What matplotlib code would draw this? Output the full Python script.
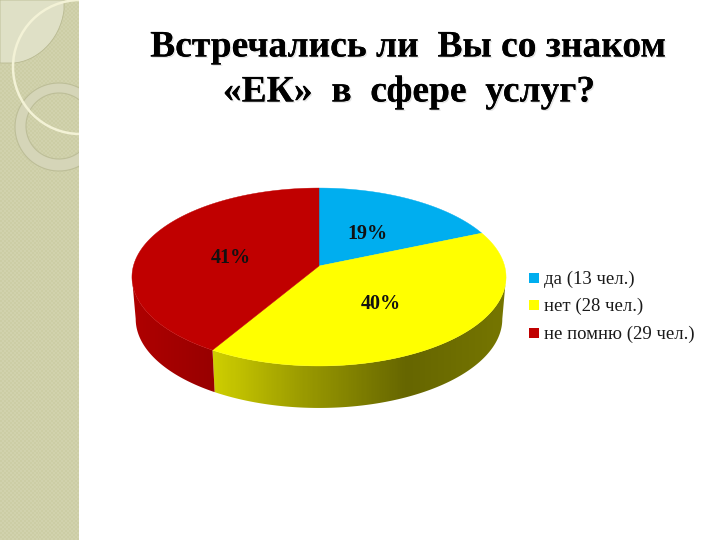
import numpy as np
import matplotlib
matplotlib.use("Agg")
import matplotlib.pyplot as plt
from matplotlib.patches import Polygon, Circle, Rectangle, PathPatch
from matplotlib.path import Path
from matplotlib.colors import LinearSegmentedColormap
import matplotlib.patheffects as pe

title_lines = ["Встречались ли  Вы со знаком", "«ЕК»  в  сфере  услуг?"]
categories = ["да (13 чел.)", "нет (28 чел.)", "не помню (29 чел.)"]
counts = [13, 28, 29]
pct_labels = ["19%", "40%", "41%"]
colors = ["#00AEEF", "#FFFF00", "#C00000"]

SERIF = ["Liberation Serif", "DejaVu Serif"]
fig = plt.figure(figsize=(7.2, 5.4), dpi=100, facecolor="white")
ax = fig.add_axes([0, 0, 1, 1])
ax.set_xlim(0, 720)
ax.set_ylim(540, 0)
ax.axis("off")

# ---- decorative side band
yy, xx = np.mgrid[0:540:2, 0:80:2]
check = ((xx // 2 + yy // 2) % 2).astype(float)
band_cm = LinearSegmentedColormap.from_list("b", ["#CCCDA5", "#D1D2AD"])
ax.imshow(check, extent=(0, 79, 540, 0), cmap=band_cm, aspect="auto",
          interpolation="nearest", zorder=1)
ax.set_xlim(0, 720)
ax.set_ylim(540, 0)
clip = Rectangle((0, 0), 79, 540, transform=ax.transData)

leaf = Path([(0, 0), (64, 0), (64, 10), (60, 42), (35, 62), (13, 63), (0, 63), (0, 0)],
            [Path.MOVETO, Path.LINETO, Path.LINETO, Path.CURVE4, Path.CURVE4, Path.CURVE4,
             Path.LINETO, Path.CLOSEPOLY])
ax.add_patch(PathPatch(leaf, fc="#DFE0C6", ec="#B9BA92", lw=0.6, zorder=2))


def circle_path(cx, cy, r, reverse=False):
    t = np.linspace(0, 2 * np.pi, 200)
    if reverse:
        t = t[::-1]
    return np.column_stack([cx + r * np.cos(t), cy + r * np.sin(t)])


outer = circle_path(59, 127, 44)
inner = circle_path(59, 126, 33, reverse=True)
ring_path = Path(np.vstack([outer, inner]),
                 [Path.MOVETO] + [Path.LINETO] * 199 + [Path.MOVETO] + [Path.LINETO] * 199)
ring = PathPatch(ring_path, fc="#D5D5B8", ec="#BDBE98", lw=0.8, zorder=3)
ax.add_patch(ring)
ring.set_clip_path(clip)
arc = Circle((80, 67), 67, fc="none", ec="#F3F2D6", lw=1.8, zorder=5)
ax.add_patch(arc)
arc.set_clip_path(clip)

# ---- pie geometry (perspective projection of a circle)
CX, CY, BX, AY, K = 319, 266, 185.6, 87.6, 0.1236
DEPTH, BOT_SCALE = 42, 0.98
RIGHT_EXTREME, LEFT_EXTREME = 97.1, 262.9


def project(theta_deg, bottom=False):
    t = np.radians(theta_deg)
    x, y = np.sin(t), np.cos(t)
    w = 1 + K * y
    px = BX * x / w
    py = CY - AY * y / w
    if bottom:
        return np.column_stack([CX + px * BOT_SCALE, py + DEPTH])
    return np.column_stack([CX + px, py])


edges = np.concatenate([[0], np.cumsum(counts)]) / sum(counts) * 360


def side_gradient(a0, a1, stops_x, stops_c, z):
    th = np.linspace(a0, a1, 200)
    poly = np.vstack([project(th), project(th[::-1], True)])
    patch = Polygon(poly, closed=True, fc="none", ec="none", zorder=z)
    ax.add_patch(patch)
    x0, x1 = 100, 520
    cm = LinearSegmentedColormap.from_list(
        "s", [((x - x0) / (x1 - x0), c) for x, c in zip(stops_x, stops_c)])
    im = ax.imshow(np.linspace(0, 1, 420)[None, :], extent=(x0, x1, 420, 200), cmap=cm,
                   aspect="auto", vmin=0, vmax=1, zorder=z)
    im.set_clip_path(patch)
    ax.set_xlim(0, 720)
    ax.set_ylim(540, 0)


# side walls: yellow, then red
side_gradient(RIGHT_EXTREME, edges[2], [100, 213, 300, 407, 520],
              ["#CFCF00", "#CFCF00", "#9C9C00", "#666600", "#787800"], 10)
side_gradient(edges[2], LEFT_EXTREME, [100, 135, 213, 520],
              ["#B00000", "#AE0000", "#980000", "#980000"], 10)

# top surface
for i, c in enumerate(colors):
    th = np.linspace(edges[i], edges[i + 1], 150)
    ax.add_patch(Polygon(np.vstack([[CX, CY], project(th)]), closed=True, fc=c, ec=c,
                         lw=0.3, zorder=11))

# percent labels
label_pos = [(367, 234), (381, 304), (231, 258)]
for (x, y), s in zip(label_pos, pct_labels):
    ax.text(x, y, s, family=SERIF, fontweight="bold", fontsize=14.5, color="#111111",
            ha="center", va="center", zorder=12)

# legend
legend_y = [279, 306, 334]
for y, c, s in zip(legend_y, colors, categories):
    ax.add_patch(Rectangle((529, y - 6), 10, 10, fc=c, ec="none", zorder=12))
    ax.text(544, y, s, family=SERIF, fontsize=13.5, color="#1a1a1a", ha="left",
            va="center", zorder=12)

# title
shadow = [pe.withSimplePatchShadow(offset=(1.0, -1.0), shadow_rgbFace="#999999", alpha=0.25),
          pe.Normal()]
for (x, y), s in zip([(408, 47), (409, 92)], title_lines):
    ax.text(x, y, s, family=SERIF, fontweight="bold", fontsize=27, color="black",
            ha="center", va="center", zorder=12, path_effects=shadow)

fig.savefig("out.png", dpi=100, facecolor="white")
